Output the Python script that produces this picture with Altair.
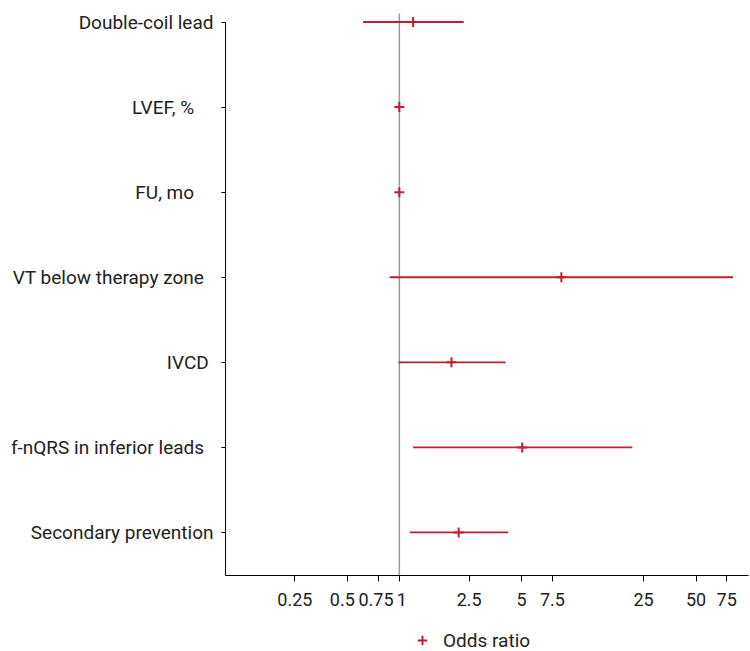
import json
import altair as alt
import pandas as pd

# Data (labels keep the original trailing spaces;
# a word joiner keeps those spaces from being trimmed)
WJ = "\u2060"
variables = [
    "Double-coil lead",
    "LVEF, %\u2002\u2002" + WJ,
    "FU, mo\u2002\u2002" + WJ,
    "VT below therapy zone\u2002" + WJ,
    "IVCD\u00a0" + WJ,
    "f-nQRS in inferior leads\u00a0\u00a0" + WJ,
    "Secondary prevention",
]
odds_ratio = [1.20, 1.00, 1.00, 8.5, 1.99, 5.07, 2.19]
ci_low = [0.62, 0.98, 0.99, 0.88, 0.99, 1.20, 1.15]
ci_high = [2.34, 1.02, 1.01, 82.0, 4.07, 21.7, 4.21]
x_ticks = [0.25, 0.5, 0.75, 1, 2.5, 5, 7.5, 25, 50, 75]

n = len(variables)
rows = list(range(n, 0, -1))  # top row first
df = pd.DataFrame({
    "row": rows,
    "variable": variables,
    "or": odds_ratio,
    "lo": ci_low,
    "hi": ci_high,
    "series": ["Odds ratio"] * n,
})
ref = pd.DataFrame({"x": [1.0], "y": [0.5], "y2": [n + 0.1]})

label_expr = json.dumps([""] + list(reversed(variables)), ensure_ascii=False) + "[datum.value]"

FONT = "Roboto"
RED = "#c0202d"

xscale = alt.Scale(type="log", domain=[0.1, 100])
yscale = alt.Scale(domain=[0.5, n], nice=False, zero=False)

xaxis = alt.Axis(values=x_ticks, format=".2~f", title=None, grid=False,
                 domainColor="black", tickColor="black", tickSize=6,
                 labelFontSize=18, labelFont=FONT, labelColor="#222",
                 labelPadding=10, labelFlush=False, labelOverlap=False,
                 labelOffset=alt.ExprRef(
                     "datum.value == 0.5 ? -5 : datum.value == 0.75 ? -2 : datum.value == 1 ? 2 : 0"))
yaxis = alt.Axis(values=list(range(1, n + 1)), labelExpr=label_expr, title=None,
                 grid=False, domainColor="black", tickColor="black", tickSize=4,
                 labelFontSize=19, labelFont=FONT, labelColor="#222",
                 labelPadding=8, labelLimit=400)

refline = alt.Chart(ref).mark_rule(color="#9a9a9a", strokeWidth=1.5).encode(
    x=alt.X("x:Q", scale=xscale, axis=xaxis),
    y=alt.Y("y:Q", scale=yscale, axis=yaxis),
    y2="y2:Q",
)

bars = alt.Chart(df).mark_rule(color=RED, strokeWidth=1.8).encode(
    x=alt.X("lo:Q", scale=xscale),
    x2="hi:Q",
    y=alt.Y("row:Q", scale=yscale),
)

plus = "M-1,0L1,0M0,-1L0,1"
points = alt.Chart(df).mark_point(filled=False, strokeWidth=2, size=100, opacity=1).encode(
    x=alt.X("or:Q", scale=xscale),
    y=alt.Y("row:Q", scale=yscale),
    color=alt.Color("series:N", scale=alt.Scale(range=[RED]), title=None),
    shape=alt.Shape("series:N", scale=alt.Scale(range=[plus]), title=None),
)

chart = alt.layer(refline, bars, points).properties(
    width=523, height=553,
    padding={"left": 225, "top": 22, "right": 2, "bottom": 76},
    autosize=alt.AutoSizeParams(type="none"),
).configure_view(stroke=None).configure_legend(
    orient="none", legendX=188, legendY=609, title=None,
    labelFont=FONT, labelFontSize=19, labelColor="#222",
    symbolSize=90, symbolStrokeWidth=2, labelOffset=11,
)

chart.save("out.html", embed_options={"renderer": "svg", "actions": False})
